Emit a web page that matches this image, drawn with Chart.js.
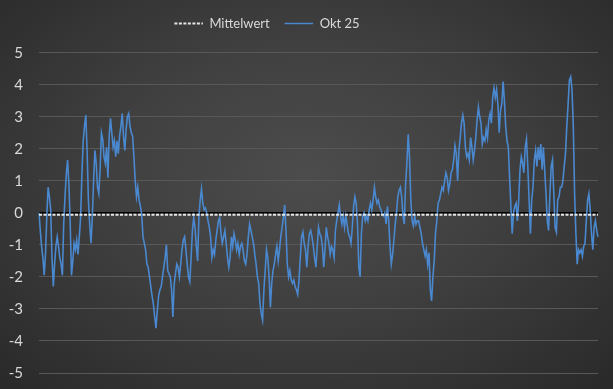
<!DOCTYPE html>
<html>
<head>
<meta charset="utf-8">
<script src="https://cdn.jsdelivr.net/npm/chart.js@4.4.1/dist/chart.umd.min.js"></script>
<style>
  html, body { margin: 0; padding: 0; }
  body {
    width: 613px; height: 389px; overflow: hidden;
    background: radial-gradient(ellipse 70% 75% at 50% 45%, #4c4c4c 0%, #404040 45%, #2a2a2a 100%);
  }
  #wrap { position: relative; width: 613px; height: 389px; }
  canvas { display: block; }
</style>
</head>
<body>
<div id="wrap"><canvas id="chart" width="613" height="389"></canvas></div>
<script>
// Okt 25 series left to right, split in parts
var okt25a = [0.0, -0.55, -1.05, -1.4, -1.95, -1.3, -0.1, 0.8, 0.5, 0.1, -1.4, -2.3, -1.6, -1.05, -0.75, -1.05, -1.4, -1.6, -1.95, -0.35,
    0.5, 1.2, 1.65, 0.9, -0.35, -1.95, -1.5, -0.95, -1.15, -0.85, -1.3, -0.75, -0.15, 1.2, 2.25, 2.7, 3.05, 1.95, 0.4, -0.35,
    -0.95, -0.15, 1.0, 1.95, 1.55, 0.8, 0.6, 1.35, 2.5, 2.3, 1.75, 1.55, 2.05, 1.1, 2.4, 2.95, 2.5, 2.05, 2.25, 1.75,
    2.25, 1.85, 2.4, 2.7, 3.1, 2.4, 1.95, 2.6, 3.0, 3.1, 2.7, 2.5, 2.4];
var okt25b = [1.75, 1.0, 0.5, 0.8, 0.4, 0.2, -0.05, -0.75, -0.95, -1.15, -1.6, -1.7, -2.0, -2.3, -2.6, -2.85, -3.25, -3.6, -3.05, -2.6,
    -2.4, -2.3, -2.0, -1.7, -1.4, -1.0, -1.8, -1.9, -2.0, -2.4, -3.25, -2.2, -1.9, -1.6, -1.7, -2.0, -1.6, -1.15, -0.85, -0.75,
    -1.15, -1.6, -2.0, -2.15, -1.4, -0.55, -0.15, -0.45, -1.05, -1.5, -0.15, 0.4, 0.75, 0.3, 0.1, 0.15, 0, -0.25, -0.45, -0.75,
    -1.4, -1.15, -1.3, -0.85, -0.55, -0.25, -0.15, -0.65, -0.95, -0.75, -0.55];
var okt25c = [-0.95, -1.4, -1.7, -1.4, -0.75, -1.05, -0.65, -0.85, -1.15, -0.95, -1.3, -1.05, -0.95, -1.15, -1.5, -1.6, -1.3, -0.75, -0.35, -0.55,
    -0.75, -0.95, -1.3, -1.6, -2.0, -2.2, -2.85, -3.15, -3.35, -2.4, -1.8, -1.15, -1.4, -2.0, -2.95, -2.2, -1.8, -1.6, -1.3, -1.05,
    -1.5, -1.15, -0.75, -0.45, -0.15, 0.25, -0.55, -1.6, -2.0, -1.8, -2.1, -2.2, -2.1, -2.3, -2.4, -2.55, -2.1, -1.4, -0.75, -0.6,
    -0.95, -1.15, -1.7, -1.05, -0.65, -0.55, -0.75, -1.05, -1.4, -1.7, -1.05];
var okt25d = [-0.45, -0.65, -0.75, -1.05, -1.7, -1.15, -0.45, -0.75, -0.95, -1.3, -1.05, -1.15, -1.4, -0.55, -0.25, 0.0, 0.25, -0.1, -0.35, -0.1,
    -0.45, -0.1, -0.35, -0.65, -0.75, -0.95, -0.45, 0.2, 0.5, 0.3, -0.35, -1.7, -2.0, -0.65, -0.1, 0, -0.25, -0.1, -0.25, 0.1,
    0.3, 0.1, 0.4, 0.8, 0.5, 0.3, 0.4, 0.2, 0.1, -0.05, -0.1, 0, -0.35, 0.2, -0.25, -1.05, -1.6, -1.3, -0.85, -0.35,
    0, 0.5, 0.7, 0.8, 0.5, -0.1, -0.35, 0.9, 1.55, 2.45, 1.75, 0.4, -0.25];
var okt25e = [-0.4, -0.1, -0.35, -0.25, -0.25, -0.45, -0.65, -0.95, -1.15, -1.35, -1.15, -1.6, -1.25, -2.4, -2.75, -2.0, -1.5, -0.65, -0.25, 0.3,
    0.4, 0.6, 0.8, 0.7, 1.0, 1.25, 1.1, 0.7, 0.9, 1.25, 1.35, 1.65, 2.1, 1.85, 1.0, 1.95, 2.35, 2.8, 3.05, 2.8,
    2.05, 1.75, 1.85, 1.65, 2.35, 2.05, 1.65, 1.95, 2.35, 2.9, 3.3, 3.0, 2.8, 2.15, 2.35, 2.25, 2.6, 2.35, 2.9, 3.1,
    2.8, 3.6, 3.9, 3.6, 3.85, 3.4, 2.5, 3.2, 3.4, 4.1];
var okt25f = [3.5, 2.7, 2.25, 2.05, 1.1, 0.2, -0.65, 0, 0.2, 0.3, -0.25, 0.4, 1.35, 1.75, 1.55, 1.25, 2.05, 2.3, 1.45, 0.4,
    -0.65, 0.4, 0.8, 1.65, 1.95, 1.45, 2.05, 1.65, 2.15, 1.35, 2.05, 1.35, 0.6, -0.25, -0.55, 0.6, 1.45, 1.65, 0.6, -0.45,
    -0.6, 0.4, 0.5, 0.8, 0.8, 1.0, 1.45, 1.85, 2.7, 3.4, 4.15, 4.25, 3.85, 2.7, 0.6, -0.65, -1.6, -1.15, -1.25, -1.15,
    -1.35, -1.05, -0.95, -0.25, 0.4, 0.6, 0.1, -0.65, -1.15, -0.45, -0.25, -0.55, -0.75];

var mittelwert = -0.06;
var yMin = -5, yMax = 5, yStep = 1;

var okt25 = okt25a.concat(okt25b, okt25c, okt25d, okt25e, okt25f);
var labels = [];
var meanLine = [];
for (var i = 0; i < okt25.length; i++) {
    labels.push(i + 1);
    meanLine.push(mittelwert);
}

// legend: fixed height so the plot starts where the original does, moved a bit left
var legendTweak = {
    id: 'legendTweak',
    afterInit: function(chart) {
        var lg = chart.legend;
        var origFit = lg.fit;
        lg.fit = function() {
            origFit.call(this);
            this.height = 50.7;
        };
    },
    beforeDraw: function(chart) {
        if (chart.legend && !chart.legend._shifted) {
            chart.legend.left -= 32;
            chart.legend.right -= 32;
            chart.legend._shifted = true;
        }
    }
};

Chart.defaults.font.family = 'Lato, "DejaVu Sans", sans-serif';
Chart.defaults.color = '#d9d9d9';

new Chart(document.getElementById('chart'), {
    type: 'line',
    data: {
        labels: labels,
        datasets: [
            {
                label: 'Mittelwert',
                data: meanLine,
                borderColor: '#e6e6e6',
                backgroundColor: 'rgba(0,0,0,0)',
                borderWidth: 2,
                borderDash: [3, 1.5],
                pointRadius: 0,
                fill: false
            },
            {
                label: 'Okt 25',
                data: okt25,
                borderColor: '#4a88cf',
                backgroundColor: 'rgba(0,0,0,0)',
                borderWidth: 1.6,
                pointRadius: 0,
                tension: 0,
                fill: false
            }
        ]
    },
    options: {
        responsive: false,
        animation: false,
        devicePixelRatio: 1,
        layout: { padding: { top: 2, right: 15, bottom: 16, left: 0 } },
        plugins: {
            legend: {
                display: true,
                position: 'top',
                labels: {
                    boxWidth: 28.5,
                    boxHeight: 0,
                    padding: 15,
                    color: '#d9d9d9',
                    font: { size: 13 }
                }
            },
            tooltip: { enabled: false }
        },
        scales: {
            x: {
                display: false
            },
            y: {
                min: yMin,
                max: yMax,
                afterFit: function(scale) {
                    scale.width = 39;
                    scale.paddingTop = 0;
                    scale.paddingBottom = 0;
                },
                border: { display: false },
                grid: {
                    drawTicks: false,
                    color: function(ctx) { return ctx.tick && ctx.tick.value === 0 ? '#000000' : '#585858'; },
                    lineWidth: function(ctx) { return ctx.tick && ctx.tick.value === 0 ? 1.5 : 1; }
                },
                ticks: {
                    stepSize: yStep,
                    padding: 16,
                    color: '#d9d9d9',
                    font: { size: 15 }
                }
            }
        }
    },
    plugins: [legendTweak]
});
</script>
</body>
</html>
